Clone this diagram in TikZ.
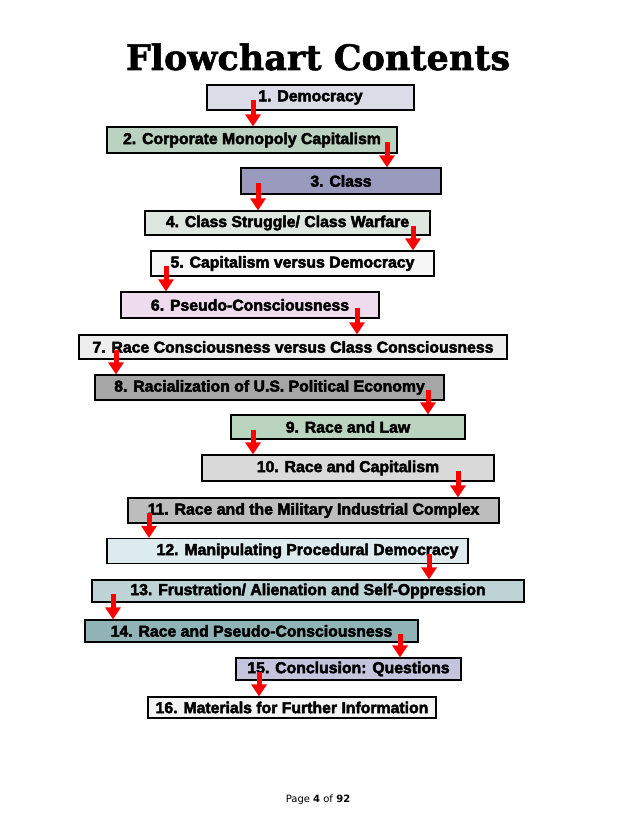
\documentclass[tikz,border=0pt]{standalone}
\usepackage{fontspec}
\usepackage{tikz}
\usetikzlibrary{arrows.meta}

\newfontfamily\boxfont{Liberation Sans}[BoldFeatures={FakeBold=3}]
\newfontfamily\titlefont{DejaVu Serif}[BoldFeatures={FakeBold=1.5}]
\newfontfamily\pagefont{DejaVu Sans}

\definecolor{fillA}{HTML}{DCDCE8}
\definecolor{fillB}{HTML}{BCD2C0}
\definecolor{fillC}{HTML}{9A9ABE}
\definecolor{fillD}{HTML}{DDE6DF}
\definecolor{fillE}{HTML}{F5F6F5}
\definecolor{fillF}{HTML}{EEDCEE}
\definecolor{fillG}{HTML}{EEEEEE}
\definecolor{fillH}{HTML}{A6A6A6}
\definecolor{fillI}{HTML}{BAD4C0}
\definecolor{fillJ}{HTML}{DADADA}
\definecolor{fillK}{HTML}{BDBDBD}
\definecolor{fillL}{HTML}{DDEAEE}
\definecolor{fillM}{HTML}{BDD3D6}
\definecolor{fillN}{HTML}{8FB3B6}
\definecolor{fillO}{HTML}{C4C4DC}
\definecolor{fillP}{HTML}{F4F4F4}
\definecolor{flowred}{HTML}{FF0000}

\begin{document}
\begin{tikzpicture}[x=1pt, y=-1pt,
    box/.style={draw=black, line width=1.1pt, inner sep=0pt,
      font=\boxfont\bfseries\fontsize{15.8}{18}\selectfont},
    flow/.style={flowred, line width=5pt, shorten <=2.5pt,
      -{Triangle[length=12pt, width=15pt]}}]
  \useasboundingbox (0,0) rectangle (638,826);
  \node[font=\titlefont\bfseries\fontsize{35}{40}\selectfont, anchor=base] (title) at (318,70) {Flowchart Contents};
  % boxes
  \node[box, fill=fillA, minimum width=207, minimum height=25] (b1) at (310.5,97.5) {1. Democracy};
  \node[box, fill=fillB, minimum width=290, minimum height=26] (b2) at (252,140) {2. Corporate Monopoly Capitalism};
  \node[box, fill=fillC, minimum width=200, minimum height=26] (b3) at (341,181) {3. Class};
  \node[box, fill=fillD, minimum width=285, minimum height=24] (b4) at (287.5,223) {4. Class Struggle/ Class Warfare};
  \node[box, fill=fillE, minimum width=283, minimum height=25] (b5) at (292.5,263.5) {5. Capitalism versus Democracy};
  \node[box, fill=fillF, minimum width=258, minimum height=26] (b6) at (250,305) {6. Pseudo-Consciousness};
  \node[box, fill=fillG, minimum width=428, minimum height=24] (b7) at (293,347) {7. Race Consciousness versus Class Consciousness};
  \node[box, fill=fillH, minimum width=349, minimum height=25] (b8) at (269.5,387.5) {8. Racialization of U.S. Political Economy};
  \node[box, fill=fillI, minimum width=234, minimum height=24] (b9) at (348,427) {9. Race and Law};
  \node[box, fill=fillJ, minimum width=292, minimum height=26] (b10) at (348,468) {10. Race and Capitalism};
  \node[box, fill=fillK, minimum width=371, minimum height=25] (b11) at (313.5,510.5) {11. Race and the Military Industrial Complex};
  \node[box, fill=fillL, minimum width=361, minimum height=25] (b12) at (287.5,551) {\hspace*{40pt}12. Manipulating Procedural Democracy};
  \node[box, fill=fillM, minimum width=432, minimum height=22] (b13) at (308,591) {13. Frustration/ Alienation and Self-Oppression};
  \node[box, fill=fillN, minimum width=333, minimum height=22] (b14) at (251.5,631) {14. Race and Pseudo-Consciousness};
  \node[box, fill=fillO, minimum width=225, minimum height=22] (b15) at (348.5,669) {15. Conclusion: Questions};
  \node[box, fill=fillP, minimum width=288, minimum height=21] (b16) at (292,707.5) {16. Materials for Further Information};
  % red arrows
  \foreach \a/\b/\x in {1/2/253, 2/3/387, 3/4/258, 4/5/413, 5/6/166, 6/7/357, 7/8/116, 8/9/428,
                        9/10/253, 10/11/458, 11/12/149, 12/13/429, 13/14/113, 14/15/400, 15/16/259}
    \draw[flow] (b\a.center -| \x,0) -- (b\b.north -| \x,0);
  \node[font=\pagefont\fontsize{10}{12}\selectfont] (page) at (318,800) {Page \textbf{4} of \textbf{92}};
\end{tikzpicture}
\end{document}
